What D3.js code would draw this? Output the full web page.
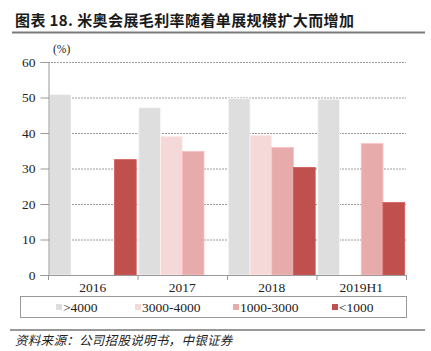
<!DOCTYPE html>
<html><head><meta charset="utf-8">
<script src="https://cdn.jsdelivr.net/npm/d3@7"></script>
<style>body{margin:0;background:#fff}svg{display:block}</style>
</head><body><svg id="c" width="431" height="351"></svg>
<script>
const categories = ["2016","2017","2018","2019H1"];
const seriesNames = [">4000","3000-4000","1000-3000","<1000"];
const seriesColors = ["#dedede","#f5d9d9","#e8abab","#c0504d"];
const s4000 = [50.8, 47.1, 49.7, 49.5];
const s3000_4000 = [null, 39.1, 39.4, null];
const s1000_3000 = [null, 34.8, 35.9, 37.0];
const sLt1000 = [32.5, null, 30.3, 20.4];
const yTicks = [0,10,20,30,40,50,60];
const titleText = "图表 18. 米奥会展毛利率随着单展规模扩大而增加";
const sourceText = "资料来源：公司招股说明书，中银证券";
const unitText = "(%)";

(function(){
const series = [s4000, s3000_4000, s1000_3000, sLt1000];
const svg = d3.select("#c");
const serif = "'Liberation Serif','Times New Roman',serif";
const cjk = "'Noto Sans CJK SC',sans-serif";

const pl = 48, pr = 406, pt = 62, pb = 275;
const x0 = d3.scaleBand().domain(categories).range([pl,pr]).paddingInner(0).paddingOuter(0);
const x1 = d3.scaleBand().domain(d3.range(4)).range([0,x0.bandwidth()]).paddingOuter(0.06).paddingInner(0);
const y = d3.scaleLinear().domain([0,60]).range([pb,pt]);

// title
svg.append("text").attr("x",15).attr("y",26).attr("font-family",cjk).attr("font-weight","bold")
  .attr("font-size",15).attr("letter-spacing",0.4).attr("fill","#1a1a1a").text(titleText);
svg.append("line").attr("x1",12).attr("x2",425).attr("y1",32.5).attr("y2",32.5)
  .attr("stroke","#7a7a7a").attr("stroke-width",2);

// gridlines
svg.append("g").selectAll("line").data(yTicks.filter(d=>d>0)).join("line")
  .attr("x1",pl).attr("x2",pr).attr("y1",d=>y(d)+0.5).attr("y2",d=>y(d)+0.5)
  .attr("stroke","#9a9a9a").attr("stroke-width",1).attr("stroke-dasharray","2,1");

// bars
const g = svg.append("g");
categories.forEach((c,ci)=>{
  series.forEach((s,si)=>{
    const v = s[ci];
    if(v==null) return;
    g.append("rect").attr("x",x0(c)+x1(si)).attr("width",x1.bandwidth())
      .attr("y",y(v)).attr("height",y(0)-y(v)).attr("fill",seriesColors[si])
      .attr("stroke",d3.color(seriesColors[si]).brighter(0.3)).attr("stroke-width",0.8);
  });
});

// y axis
const yAxis = d3.axisLeft(y).tickValues(yTicks).tickSize(8).tickPadding(5);
const ya = svg.append("g").attr("transform",`translate(${pl+0.5},0)`).call(yAxis);
ya.select(".domain").attr("stroke","#999");
ya.selectAll(".tick line").attr("stroke","#999");
ya.selectAll("text").attr("font-family",serif).attr("font-size",13.5).attr("fill","#222");

// x axis
svg.append("line").attr("x1",pl).attr("x2",pr).attr("y1",pb+0.5).attr("y2",pb+0.5).attr("stroke","#999");
const bounds = categories.map(c=>x0(c)).concat([pr]);
svg.append("g").selectAll("line").data(bounds).join("line")
  .attr("x1",d=>d+0.5).attr("x2",d=>d+0.5).attr("y1",pb).attr("y2",pb+5).attr("stroke","#999");
svg.append("g").selectAll("text").data(categories).join("text")
  .attr("x",d=>x0(d)+x0.bandwidth()/2).attr("y",292).attr("text-anchor","middle")
  .attr("font-family",serif).attr("font-size",13.5).attr("fill","#222").text(d=>d);

// unit
svg.append("text").attr("x",53).attr("y",53).attr("font-family",serif).attr("font-size",11.5).attr("fill","#222").text(unitText);

// legend
svg.append("rect").attr("x",20.5).attr("y",296.5).attr("width",386).attr("height",21)
  .attr("fill","none").attr("stroke","#999");
const legX = [56,135,233,332];
seriesNames.forEach((n,i)=>{
  svg.append("rect").attr("x",legX[i]).attr("y",304).attr("width",6).attr("height",6).attr("fill",seriesColors[i]);
  svg.append("text").attr("x",legX[i]+7).attr("y",311.5).attr("font-family",serif).attr("font-size",13.5)
    .attr("fill","#222").text(n);
});

// footer
svg.append("line").attr("x1",10).attr("x2",425).attr("y1",330).attr("y2",330).attr("stroke","#333").attr("stroke-width",1);
svg.append("text").attr("x",15).attr("y",345).attr("font-family",cjk).attr("font-style","italic")
  .attr("font-size",12.5).attr("letter-spacing",0.3).attr("fill","#222").text(sourceText);
})();
</script></body></html>
